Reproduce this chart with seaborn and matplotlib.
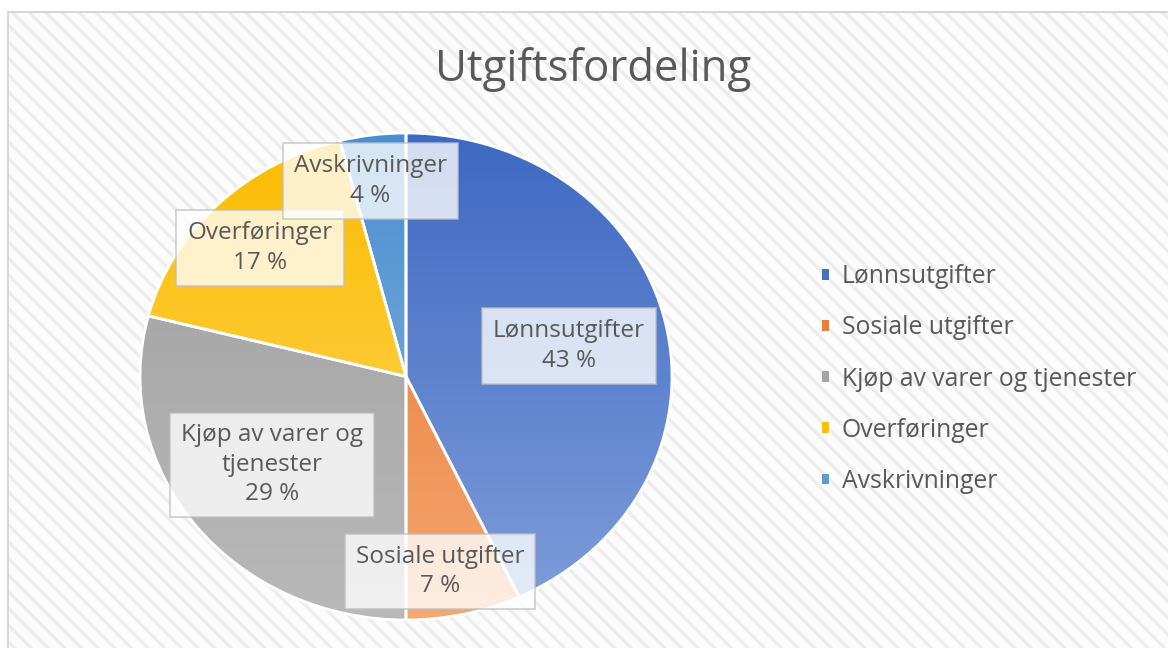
import numpy as np
import matplotlib
matplotlib.use("Agg")
import matplotlib.pyplot as plt
import matplotlib.patches as mpatches
from matplotlib.colors import LinearSegmentedColormap
import seaborn as sns

# chart data
categories = ["Lønnsutgifter", "Sosiale utgifter", "Kjøp av varer og tjenester",
              "Overføringer", "Avskrivninger"]
box_labels = ["Lønnsutgifter", "Sosiale utgifter", "Kjøp av varer og\ntjenester",
              "Overføringer", "Avskrivninger"]
shares = [43, 7, 29, 17, 4]
title = "Utgiftsfordeling"

# styling
base_colors = sns.color_palette(["#4472C4", "#ED7D31", "#A5A5A5", "#FFC000", "#5B9BD5"])
top_colors = ["#3E69C2", "#E8722A", "#9E9E9E", "#FBBB00", "#4A8ED0"]
bottom_colors = ["#7F9EDB", "#F4A872", "#B9B9B9", "#FFD966", "#8DB8E3"]
label_pos = [(0.613, 0.125), (0.128, -0.80), (-0.504, -0.363), (-0.549, 0.528), (-0.135, 0.803)]
text_col = "#595959"

sns.set_theme(style="white")
plt.rcParams["font.family"] = ["Open Sans", "DejaVu Sans"]
plt.rcParams["hatch.linewidth"] = 2.4

W, H = 1168, 648
fig = plt.figure(figsize=(W / 100, H / 100), dpi=100)
fig.patch.set_facecolor("white")

# hatched chart background + border
bg = mpatches.Rectangle((8 / W, -0.01), 1.0, 1 - 12 / H + 0.01, transform=fig.transFigure,
                        facecolor="#fcfcfc", edgecolor="#ededed", hatch="\\\\",
                        linewidth=0, zorder=-3)
fig.patches.append(bg)
border = mpatches.Rectangle((8 / W, -0.01), 1.0, 1 - 12 / H + 0.01, transform=fig.transFigure,
                            facecolor="none", edgecolor="#d0d0d0", linewidth=1.2, zorder=-2)
fig.patches.append(border)

# pie axes (slightly elliptical like the original)
x0, x1, y0, y1 = 140, 672, 133, 620
ax = fig.add_axes([x0 / W, 1 - y1 / H, (x1 - x0) / W, (y1 - y0) / H])
ax.patch.set_alpha(0)

wedges, _ = ax.pie(shares, colors=base_colors, startangle=90, counterclock=False,
                   wedgeprops=dict(edgecolor="white", linewidth=2))
ax.set_aspect("auto")

# vertical gradient fill for each wedge
grad = np.linspace(0, 1, 256).reshape(-1, 1)
for w, c_top, c_bot in zip(wedges, top_colors, bottom_colors):
    cmap = LinearSegmentedColormap.from_list("g", [c_top, c_bot])
    im = ax.imshow(grad, cmap=cmap, extent=(-1, 1, -1, 1), origin="upper",
                   aspect="auto", zorder=1.5)
    im.set_clip_path(w)
for w in wedges:
    w.set_facecolor("none")
    w.set_zorder(2)
ax.set_xlim(-1, 1)
ax.set_ylim(-1, 1)

# data labels
for lbl, val, (lx, ly) in zip(box_labels, shares, label_pos):
    ax.text(lx, ly, f"{lbl}\n{val} %", ha="center", va="center", fontsize=17.5,
            color=text_col, linespacing=1.3, zorder=5,
            bbox=dict(boxstyle="square,pad=0.45", facecolor="white", alpha=0.78,
                      edgecolor="#bfbfbf", linewidth=1.2))

fig.text(593 / W, 1 - 69 / H, title, ha="center", va="center", fontsize=31.5, color=text_col)

handles = [mpatches.Patch(facecolor=c, edgecolor="none") for c in base_colors]
fig.legend(handles, categories, loc="center left", bbox_to_anchor=(812 / W, 1 - 379 / H),
           frameon=False, fontsize=17.8, labelcolor=text_col, handlelength=0.3,
           handleheight=0.3, handletextpad=0.5, labelspacing=1.06, borderaxespad=0)

fig.savefig("out.png", dpi=100)
